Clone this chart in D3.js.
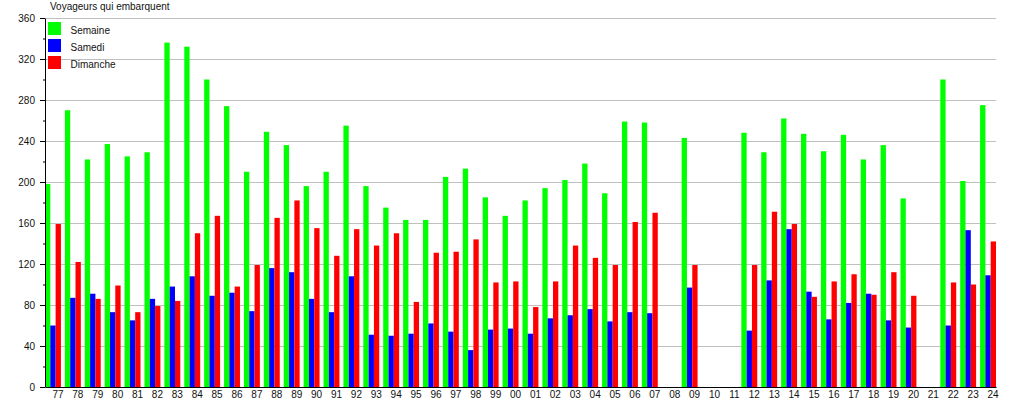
<!DOCTYPE html>
<html>
<head>
<meta charset="utf-8">
<script src="https://cdn.jsdelivr.net/npm/d3@7"></script>
<style>
  html, body { margin: 0; padding: 0; background: #fff; }
  svg { display: block; font-family: "Liberation Sans", Arial, sans-serif; }
</style>
</head>
<body>
<svg id="chart" width="1015" height="400"></svg>
<script>
const years = ["77","78","79","80","81","82","83","84","85","86","87","88","89","90","91","92","93","94","95","96","97","98","99","00","01","02","03","04","05","06","07","08","09","10","11","12","13","14","15","16","17","18","19","20","21","22","23","24"];
const semaine = [198,270,222,237,225,229,336,332,300,274,210,249,236,196,210,255,196,175,163,163,205,213,185,167,182,194,202,218,189,259,258,null,243,null,null,248,229,262,247,230,246,222,236,184,null,300,201,275];
const samedi = [60,87,91,73,65,86,98,108,89,92,74,116,112,86,73,108,51,50,52,62,54,36,56,57,52,67,70,76,64,73,72,null,97,null,null,55,104,154,93,66,82,91,65,58,null,60,153,109];
const dimanche = [159,122,86,99,73,79,84,150,167,98,119,165,182,155,128,154,138,150,83,131,132,144,102,103,78,103,138,126,119,161,170,null,119,null,null,119,171,159,88,103,110,90,112,89,null,102,100,142];
const seriesNames = ["Semaine","Samedi","Dimanche"];
const seriesColors = ["#00ff00","#0000ff","#ff0000"];
const majorTicks = [0,40,80,120,160,200,240,280,320,360];
const minorTicks = [20,60,100,140,180,220,260,300,340];
const title = "Voyageurs qui embarquent";

(function () {
const seriesValues = [semaine, samedi, dimanche];
const svg = d3.select("#chart");
const mLeft = 45, mRight = 996, mTop = 18, mBottom = 387;

const x = d3.scaleBand().domain(years).range([mLeft, mRight]).paddingInner(0.2).paddingOuter(0);
const xs = d3.scaleBand().domain(seriesNames).range([0, x.bandwidth()]).padding(0);
const y = d3.scaleLinear().domain([0, 360]).range([mBottom, mTop]);

// gridlines
const grid = svg.append("g").attr("transform", `translate(${mLeft},0)`)
  .call(d3.axisLeft(y).tickValues(majorTicks.filter(d => d > 0)).tickSize(-(mRight - mLeft)).tickFormat(""));
grid.select(".domain").remove();
grid.selectAll("line").attr("stroke", "#c0c0c0");

// bars
seriesNames.forEach((name, si) => {
  const vals = seriesValues[si];
  svg.append("g").selectAll("rect")
    .data(years.map((yr, i) => ({yr, v: vals[i]})).filter(d => d.v != null))
    .join("rect")
    .attr("x", d => x(d.yr) + xs(name))
    .attr("width", xs.bandwidth())
    .attr("y", d => y(d.v))
    .attr("height", d => y(0) - y(d.v))
    .attr("fill", seriesColors[si]);
});

// minor ticks
const minor = svg.append("g").attr("transform", `translate(${mLeft},0)`)
  .call(d3.axisLeft(y).tickValues(minorTicks).tickSize(2).tickFormat(""));
minor.select(".domain").remove();
minor.selectAll("line").attr("stroke", "#000");

// y axis
const yAxis = svg.append("g").attr("transform", `translate(${mLeft},0)`)
  .call(d3.axisLeft(y).tickValues(majorTicks).tickSize(5).tickSizeOuter(0).tickPadding(5));
yAxis.selectAll("text").attr("font-size", 10).attr("fill", "#111").attr("font-family", "Liberation Sans, Arial, sans-serif");
yAxis.selectAll("line,path").attr("stroke", "#000");

// x axis
const xAxis = svg.append("g").attr("transform", `translate(0,${mBottom})`)
  .call(d3.axisBottom(x).tickSize(0).tickSizeOuter(0).tickPadding(4));
xAxis.selectAll("text").attr("font-size", 10).attr("fill", "#111").attr("dx", 5).attr("font-family", "Liberation Sans, Arial, sans-serif");
xAxis.select(".domain").attr("stroke", "#000");

// title
svg.append("text").attr("x", 50).attr("y", 9.5).attr("font-size", 10).attr("fill", "#111").text(title);

// legend
const legend = svg.append("g");
seriesNames.forEach((name, i) => {
  legend.append("rect").attr("x", 48).attr("y", 22 + i * 17).attr("width", 13).attr("height", 13).attr("fill", seriesColors[i]);
  legend.append("text").attr("x", 70.5).attr("y", 34 + i * 17).attr("font-size", 10).attr("fill", "#111").text(name);
});
})();
</script>
</body>
</html>
